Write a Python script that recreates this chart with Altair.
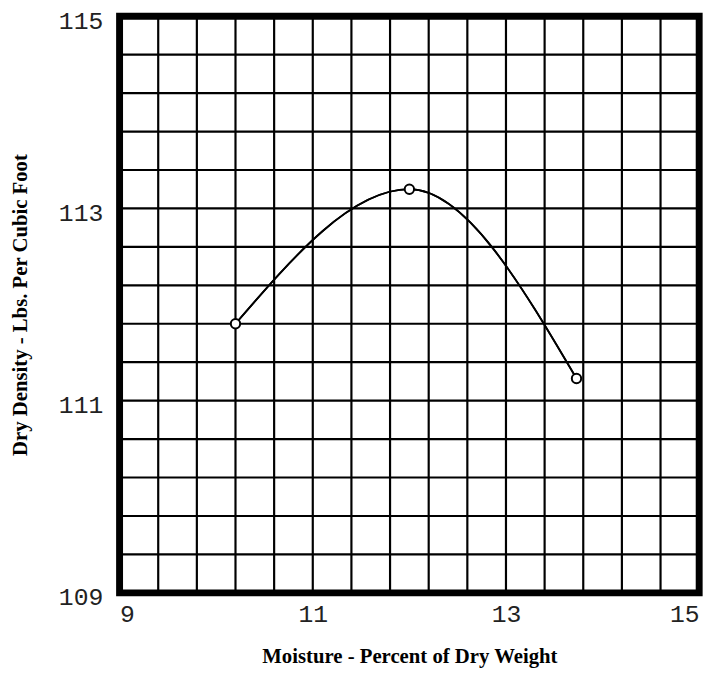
import altair as alt
import pandas as pd

# Data
moisture = [10.2, 12.0, 13.73]
density = [111.8, 113.2, 111.23]

# Grid positions (every 0.4 unit) and labelled ticks
x_grid = [9.0, 9.4, 9.8, 10.2, 10.6, 11.0, 11.4, 11.8, 12.2, 12.6, 13.0, 13.4, 13.8, 14.2, 14.6, 15.0]
y_grid = [109.0, 109.4, 109.8, 110.2, 110.6, 111.0, 111.4, 111.8, 112.2, 112.6, 113.0, 113.4, 113.8, 114.2, 114.6, 115.0]
x_labels = [9, 11, 13, 15]
y_labels = [109, 111, 113, 115]

df = pd.DataFrame({"moisture": moisture, "density": density})
df_xg = pd.DataFrame({"moisture": x_grid})
df_yg = pd.DataFrame({"density": y_grid})

common_axis = dict(
    grid=False,
    ticks=False,
    domain=False,
    format="d",
    labelFont="Liberation Mono",
    labelFontSize=25,
    labelColor="#222",
    labelOverlap=False,
    labelBound=False,
    titleFont="Liberation Serif",
    titleFontWeight="bold",
    titleFontSize=21,
    titleColor="black",
)

x_scale = alt.Scale(domain=[9, 15], nice=False, zero=False)
y_scale = alt.Scale(domain=[109, 115], nice=False, zero=False)

x_enc = alt.X(
    "moisture:Q",
    scale=x_scale,
    axis=alt.Axis(
        values=x_labels,
        title="Moisture - Percent of Dry Weight",
        labelPadding=9,
        titlePadding=20,
        **common_axis,
    ),
)
y_enc = alt.Y(
    "density:Q",
    scale=y_scale,
    axis=alt.Axis(
        values=y_labels,
        title="Dry Density - Lbs. Per Cubic Foot",
        labelPadding=17,
        labelOffset=4,
        titlePadding=28,
        **common_axis,
    ),
)

vgrid = alt.Chart(df_xg).mark_rule(color="black", strokeWidth=2.2).encode(
    x=alt.X("moisture:Q", scale=x_scale)
)
hgrid = alt.Chart(df_yg).mark_rule(color="black", strokeWidth=2.2).encode(
    y=alt.Y("density:Q", scale=y_scale)
)

base = alt.Chart(df).encode(x=x_enc, y=y_enc)

line = base.mark_line(interpolate="monotone", color="black", strokeWidth=1.8)

points = base.mark_point(
    shape="circle", filled=False, color="black", size=90, strokeWidth=2, fill="white", fillOpacity=1
)

chart = (
    alt.layer(line, vgrid, hgrid, line, points)
    .properties(
        width=587,
        height=584,
        autosize=alt.AutoSizeParams(type="none"),
        padding={"left": 113, "top": 4, "right": 14, "bottom": 90},
        background="white",
    )
    .configure_view(stroke="black", strokeWidth=7)
)

chart.save("out.html", embed_options={"renderer": "svg", "actions": False})
